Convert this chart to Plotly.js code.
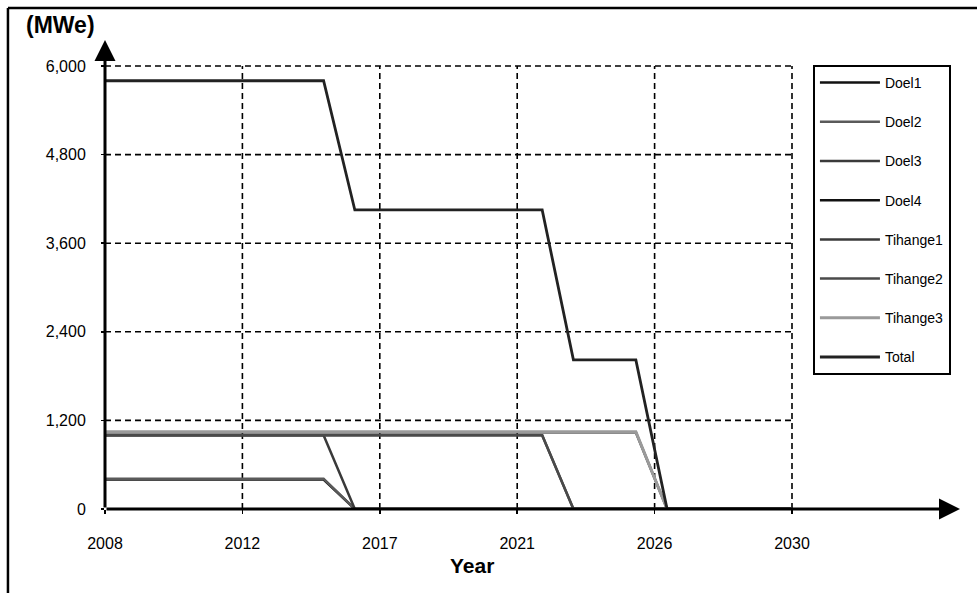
<!DOCTYPE html>
<html>
<head>
<meta charset="utf-8">
<script src="https://cdn.plot.ly/plotly-3.0.1.min.js"></script>
<style>html,body{margin:0;padding:0;background:#fff;}#chart{width:977px;height:593px;}</style>
</head>
<body>
<div id="chart"></div>
<script>
// ---- data ----
var years = [2008, 2015, 2016, 2022, 2023, 2025, 2026, 2030];
var doel1    = [400, 400, 0, 0, 0, 0, 0, 0];
var doel2    = [410, 410, 0, 0, 0, 0, 0, 0];
var doel3    = [1000, 1000, 1000, 1000, 0, 0, 0, 0];
var doel4    = [1040, 1040, 1040, 1040, 1040, 1040, 0, 0];
var tihange1 = [1000, 1000, 0, 0, 0, 0, 0, 0];
var tihange2 = [1000, 1000, 1000, 1000, 0, 0, 0, 0];
var tihange3 = [1045, 1045, 1045, 1045, 1045, 1045, 0, 0];
var total    = [5800, 5800, 4050, 4050, 2020, 2020, 0, 0];

var seriesNames = ['Doel1', 'Doel2', 'Doel3', 'Doel4', 'Tihange1', 'Tihange2', 'Tihange3', 'Total'];
var seriesValues = [doel1, doel2, doel3, doel4, tihange1, tihange2, tihange3, total];

var xTickVals = [2008, 2012.4, 2016.8, 2021.2, 2025.6, 2030];
var xTickText = ['2008', '2012', '2017', '2021', '2026', '2030'];
var yTickVals = [0, 1200, 2400, 3600, 4800, 6000];
var yTickText = ['0', '1,200', '2,400', '3,600', '4,800', '6,000'];

// ---- styling ----
var colors = ['#111111', '#5a5a5a', '#3a3a3a', '#111111', '#3a3a3a', '#4a4a4a', '#9a9a9a', '#222222'];
var widths = [2.5, 2.5, 2.5, 2.5, 2.5, 2.5, 3, 2.8];
var FONT = 'Liberation Sans, Arial, sans-serif';
var X0 = 2008, X1 = 2035.38, Y1 = 6352;

var traces = seriesNames.map(function (n, i) {
  return {
    x: years, y: seriesValues[i], name: n, type: 'scatter', mode: 'lines',
    legendgroup: n, cliponaxis: false,
    line: {color: colors[i], width: widths[i]}
  };
});

var shapes = [];
yTickVals.forEach(function (v) {
  if (v > 0) shapes.push({type: 'line', xref: 'x', yref: 'y', x0: xTickVals[0], x1: xTickVals[xTickVals.length - 1], y0: v, y1: v,
    line: {color: '#000', width: 1.6, dash: '6px,4px'}, layer: 'below'});
});
xTickVals.forEach(function (v) {
  if (v > xTickVals[0]) shapes.push({type: 'line', xref: 'x', yref: 'y', x0: v, x1: v, y0: 0, y1: yTickVals[yTickVals.length - 1],
    line: {color: '#000', width: 1.6, dash: '6px,4px'}, layer: 'below'});
});
// outer frame (left and top edges)
shapes.push({type: 'line', xref: 'paper', yref: 'paper', x0: -0.1135, x1: -0.1135, y0: -0.2, y1: 1.068, line: {color: '#000', width: 2.5}});
shapes.push({type: 'line', xref: 'paper', yref: 'paper', x0: -0.1135, x1: 1.03, y0: 1.068, y1: 1.068, line: {color: '#000', width: 2.5}});

var annotations = [
  // axis arrows
  {x: X1, y: 0, ax: X0, ay: 0, xref: 'x', yref: 'y', axref: 'x', ayref: 'y', text: '', showarrow: true,
   arrowhead: 2, arrowsize: 1.4, arrowwidth: 3, arrowcolor: '#000'},
  {x: X0, y: Y1, ax: X0, ay: 0, xref: 'x', yref: 'y', axref: 'x', ayref: 'y', text: '', showarrow: true,
   arrowhead: 2, arrowsize: 1.4, arrowwidth: 3, arrowcolor: '#000'},
  {x: -0.0515, y: 1.032, xref: 'paper', yref: 'paper', xanchor: 'center', yanchor: 'middle', showarrow: false,
   text: '<b>(MWe)</b>', font: {family: FONT, size: 23, color: '#000'}},
  {x: 0.4292, y: -0.1215, xref: 'paper', yref: 'paper', xanchor: 'center', yanchor: 'middle', showarrow: false,
   text: '<b>Year</b>', font: {family: FONT, size: 21, color: '#000'}}
];

var layout = {
  width: 977, height: 593,
  margin: {l: 105, r: 17, t: 40, b: 84},
  paper_bgcolor: '#fff', plot_bgcolor: '#fff',
  font: {family: FONT, color: '#000'},
  xaxis: {range: [X0, X1], tickmode: 'array', tickvals: xTickVals, ticktext: xTickText,
    showgrid: false, zeroline: false, showline: false, ticks: 'outside', ticklen: 4, tickwidth: 1.5, tickcolor: '#000',
    ticklabelstandoff: 16, tickfont: {family: FONT, size: 16, color: '#000'}},
  yaxis: {range: [0, Y1], tickmode: 'array', tickvals: yTickVals, ticktext: yTickText,
    showgrid: false, zeroline: false, showline: false, ticks: 'outside', ticklen: 3, tickwidth: 1.5, tickcolor: '#000',
    ticklabelstandoff: 12, tickfont: {family: FONT, size: 16, color: '#000'}},
  showlegend: true,
  legend: {x: 0.828, y: 0.9467, xanchor: 'left', yanchor: 'top', bgcolor: '#fff', bordercolor: '#000', borderwidth: 2,
    traceorder: 'grouped', tracegroupgap: 18, itemwidth: 60, font: {family: FONT, size: 14, color: '#000'}},
  shapes: shapes,
  annotations: annotations
};

Plotly.newPlot('chart', traces, layout, {staticPlot: true});
</script>
</body>
</html>
